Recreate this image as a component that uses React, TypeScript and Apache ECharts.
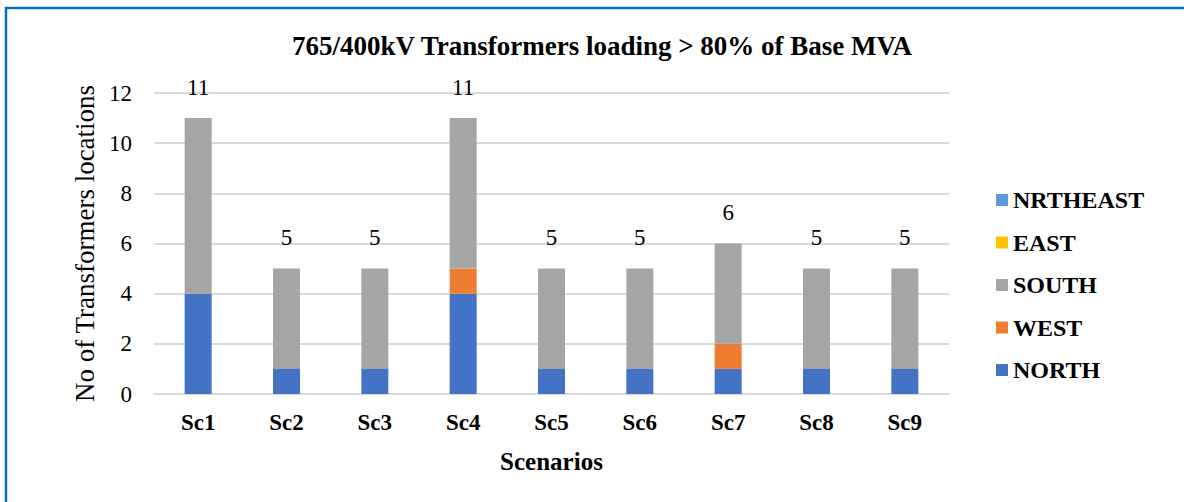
import React, { useEffect, useRef } from "react";
import * as echarts from "echarts";

const categories = ["Sc1", "Sc2", "Sc3", "Sc4", "Sc5", "Sc6", "Sc7", "Sc8", "Sc9"];
const north = [4, 1, 1, 4, 1, 1, 1, 1, 1];
const west = [0, 0, 0, 1, 0, 0, 1, 0, 0];
const south = [7, 4, 4, 6, 4, 4, 4, 4, 4];
const east = [0, 0, 0, 0, 0, 0, 0, 0, 0];
const northeast = [0, 0, 0, 0, 0, 0, 0, 0, 0];
const totals = [11, 5, 5, 11, 5, 5, 6, 5, 5];
const yTicks = { min: 0, max: 12, interval: 2 };

const FONT = "Times New Roman, Liberation Serif, serif";

export default function App() {
  const ref = useRef<HTMLDivElement>(null);
  useEffect(() => {
    if (!ref.current) return;
    const chart = echarts.init(ref.current, null, { renderer: "svg" });
    const barSeries = (name: string, data: number[], color: string) => ({
      name,
      type: "bar",
      stack: "total",
      data,
      barWidth: 27,
      itemStyle: { color },
      emphasis: { disabled: true },
    });
    chart.setOption({
      animation: false,
      backgroundColor: "#ffffff",
      textStyle: { fontFamily: FONT },
      title: {
        text: "765/400kV Transformers loading > 80% of Base MVA",
        left: 597,
        textAlign: "center",
        top: 27,
        textStyle: { fontFamily: FONT, fontSize: 27, fontWeight: "bold", color: "#000" },
      },
      legend: {
        orient: "vertical",
        left: 991,
        top: 183,
        itemWidth: 12,
        itemHeight: 12,
        itemGap: 18.5,
        icon: "rect",
        data: ["NRTHEAST", "EAST", "SOUTH", "WEST", "NORTH"],
        textStyle: { fontFamily: FONT, fontSize: 24, fontWeight: "bold", color: "#000" },
      },
      grid: { left: 154, right: 235, top: 93, bottom: 108, containLabel: false },
      xAxis: {
        type: "category",
        data: categories,
        name: "Scenarios",
        nameLocation: "middle",
        nameGap: 55,
        nameTextStyle: { fontFamily: FONT, fontSize: 25, fontWeight: "bold", color: "#000" },
        axisLine: { lineStyle: { color: "#d9d9d9", width: 2 } },
        axisTick: { show: false },
        axisLabel: { fontFamily: FONT, fontSize: 23, fontWeight: "bold", color: "#000", margin: 17 },
      },
      yAxis: {
        type: "value",
        min: yTicks.min,
        max: yTicks.max,
        interval: yTicks.interval,
        name: "No of Transformers locations",
        nameLocation: "middle",
        nameGap: 50,
        nameTextStyle: { fontFamily: FONT, fontSize: 27, color: "#000" },
        axisLine: { show: false },
        axisTick: { show: false },
        splitLine: { lineStyle: { color: "#d9d9d9", width: 2 } },
        axisLabel: { fontFamily: FONT, fontSize: 23, color: "#000", margin: 22 },
      },
      series: [
        barSeries("NORTH", north, "#4472C4"),
        barSeries("WEST", west, "#ED7D31"),
        barSeries("SOUTH", south, "#A5A5A5"),
        barSeries("EAST", east, "#FFC000"),
        barSeries("NRTHEAST", northeast, "#5B9BD5"),
        {
          name: "Total",
          type: "line",
          data: totals,
          symbol: "circle",
          symbolSize: 1,
          showSymbol: true,
          itemStyle: { color: "rgba(0,0,0,0)" },
          lineStyle: { opacity: 0 },
          silent: true,
          label: {
            show: true,
            position: "top",
            distance: 19,
            fontFamily: FONT,
            fontSize: 23,
            color: "#000",
          },
        },
      ],
      graphic: [
        { type: "line", shape: { x1: 6, y1: 8, x2: 1184, y2: 8 }, style: { stroke: "#0070C0", lineWidth: 2.5 } },
        { type: "line", shape: { x1: 6, y1: 7, x2: 6, y2: 502 }, style: { stroke: "#0070C0", lineWidth: 2.5 } },
      ],
    });
    return () => chart.dispose();
  }, []);
  return (
    <div
      ref={ref}
      style={{ position: "fixed", left: 0, top: 0, width: 1184, height: 502 }}
    />
  );
}
